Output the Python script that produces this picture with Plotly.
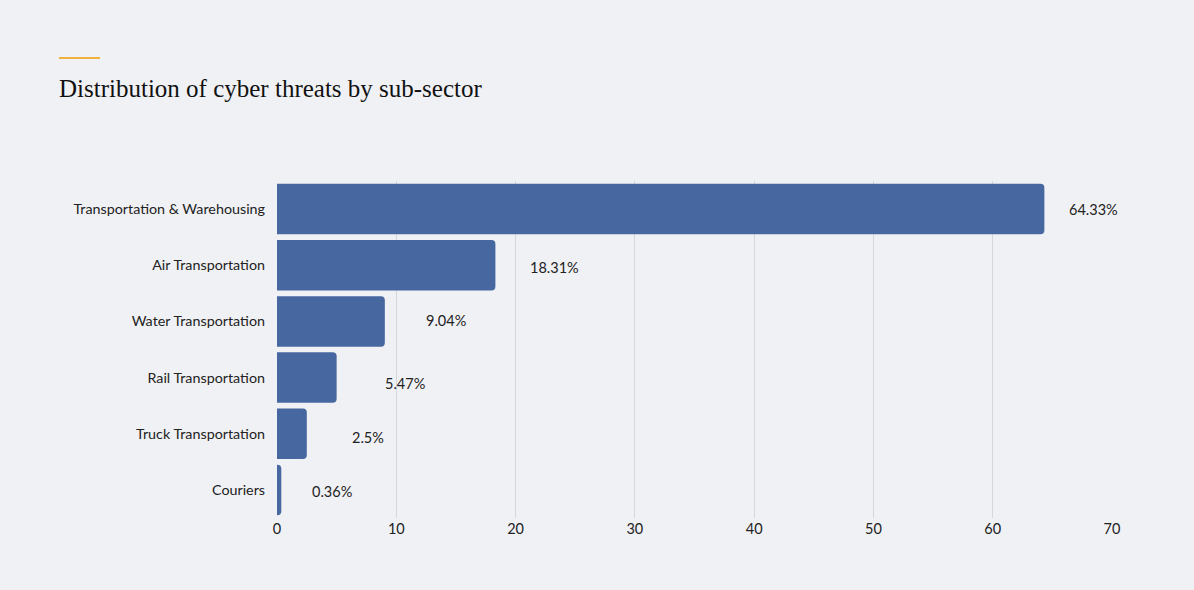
import plotly.graph_objects as go

categories = ["Transportation & Warehousing", "Air Transportation", "Water Transportation",
              "Rail Transportation", "Truck Transportation", "Couriers"]
# bar lengths as drawn in the reference (rail bar is drawn at ~5.0)
bar_values = [64.33, 18.31, 9.04, 5.0, 2.5, 0.36]
value_labels = ["64.33%", "18.31%", "9.04%", "5.47%", "2.5%", "0.36%"]
x_ticks = [0, 10, 20, 30, 40, 50, 60, 70]

# label offsets (pixels) — styling only
label_xshift = [23, 33, 39, 46, 43, 29]
label_yshift = [0, -2, 1, -6, -4, -2]

BG = "#f0f1f5"
BAR = "#4767a0"

fig = go.Figure()
fig.add_trace(go.Bar(
    x=bar_values, y=categories, orientation="h",
    marker=dict(color=BAR, cornerradius=4, line=dict(width=0)),
    hoverinfo="skip",
))

for v, lab, cat, dx, dy in zip(bar_values, value_labels, categories, label_xshift, label_yshift):
    fig.add_annotation(x=v, y=cat, text=lab, showarrow=False, xanchor="left",
                       xshift=dx, yshift=dy,
                       font=dict(family="Lato", size=14.5, color="#222222"))

PH = 590 - 181 - 72
fig.add_shape(type="line", xref="paper", yref="paper",
              x0=-218/835, x1=-177/835, y0=(590-58-72)/PH, y1=(590-58-72)/PH,
              line=dict(color="#f0b23c", width=2))

fig.update_layout(
    width=1194, height=590,
    paper_bgcolor=BG, plot_bgcolor=BG,
    margin=dict(l=277, r=82, t=181, b=72),
    bargap=0.1,
    showlegend=False,
    title=dict(text="Distribution of cyber threats by sub-sector",
               x=59/1194, xanchor="left", y=1-88/590, yanchor="middle",
               font=dict(family="Liberation Serif", size=25, color="#111111")),
    xaxis=dict(range=[0, 70], tickvals=x_ticks, showgrid=True, gridcolor="#d6d7db",
               gridwidth=1, zeroline=False, showline=False, ticks="",
               tickfont=dict(family="Lato", size=14.5, color="#222222")),
    yaxis=dict(autorange="reversed", showgrid=False, ticks="", showline=False,
               ticklabelstandoff=11,
               tickfont=dict(family="Lato", size=14.3, color="#222222")),
)

fig.write_html("out.html", config={"displayModeBar": False},
               post_script="document.body.style.margin='0';document.body.style.background='%s';" % BG)
